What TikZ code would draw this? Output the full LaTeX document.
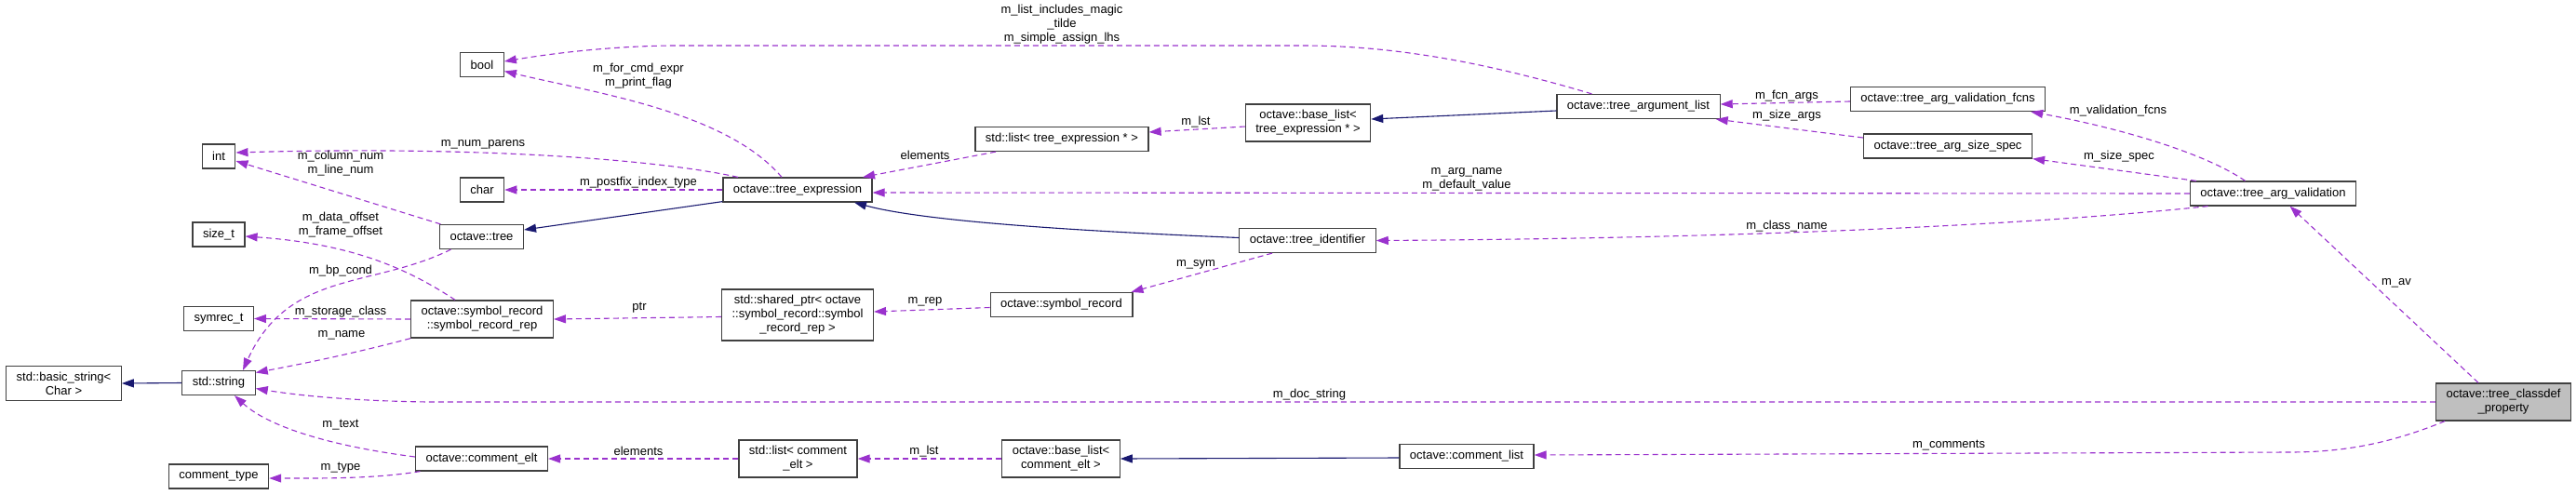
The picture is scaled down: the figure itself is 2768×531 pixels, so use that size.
\documentclass[tikz,border=0pt]{standalone}
\usepackage{fontspec}
\setmainfont{Liberation Sans}
\usepackage{xcolor}
\usetikzlibrary{arrows.meta}

\definecolor{memberpurple}{HTML}{9A32CD}
\definecolor{basenavy}{HTML}{191970}
\definecolor{focusgray}{HTML}{BFBFBF}

\begin{document}
\begin{tikzpicture}[x=1pt, y=-1pt,
  cls/.style={draw=black!75, line width=1.2pt, fill=white, inner xsep=11pt, inner ysep=6.5pt,
    minimum height=26pt, align=center, font=\fontsize{13}{15}\selectfont},
  focus/.style={cls, fill=focusgray},
  lbl/.style={inner sep=0pt, align=center, font=\fontsize{13}{15}\selectfont},
  member/.style={draw=memberpurple, line width=1.1pt, dash pattern=on 6pt off 4pt,
    -{Triangle[length=13pt,width=9pt]}},
  inherit/.style={draw=basenavy, line width=1.1pt, -{Triangle[length=13pt,width=9pt]}}]

\useasboundingbox (0,0) rectangle (2768,531);

% Plain types (left column)
\node[cls] (bool) at (518,69.5) {bool};
\node[cls] (int) at (235,168) {int};
\node[cls] (char) at (518,204) {char};
\node[cls] (sizet) at (235,252) {size\_t};
\node[cls] (symrect) at (235,342.5) {symrec\_t};
\node[cls] (bstring) at (68.5,412) {std::basic\_string<\\Char >};
\node[cls] (string) at (235,411.5) {std::string};
\node[cls] (ctype) at (235,512) {comment\_type};

% Second column
\node[cls] (tree) at (517.5,254.5) {octave::tree};
\node[cls] (symrep) at (518,343) {octave::symbol\_record\\::symbol\_record\_rep};
\node[cls] (celt) at (517.5,493) {octave::comment\_elt};

% Third column
\node[cls] (texpr) at (857,204) {octave::tree\_expression};
\node[cls] (shptr) at (857,338.5) {std::shared\_ptr< octave\\::symbol\_record::symbol\\\_record\_rep >};
\node[cls] (lcelt) at (857.5,493) {std::list< comment\\\_elt >};

% Fourth column
\node[cls] (lexpr) at (1141,149.5) {std::list< tree\_expression * >};
\node[cls] (symrec) at (1140.5,327.5) {octave::symbol\_record};
\node[cls] (bcelt) at (1140,493) {octave::base\_list<\\comment\_elt >};

% Fifth column
\node[cls] (bexpr) at (1405.5,132) {octave::base\_list<\\tree\_expression * >};
\node[cls] (tident) at (1405,258.5) {octave::tree\_identifier};
\node[cls] (clist) at (1576,490.5) {octave::comment\_list};

% Right part
\node[cls] (talist) at (1760.5,114.5) {octave::tree\_argument\_list};
\node[cls] (tavfcns) at (2093,106.5) {octave::tree\_arg\_validation\_fcns};
\node[cls] (tavsize) at (2093,157) {octave::tree\_arg\_size\_spec};
\node[cls] (tav) at (2442.5,208) {octave::tree\_arg\_validation};
\node[focus] (cprop) at (2690,432) {octave::tree\_classdef\\\_property};

% Members of tree_argument_list / tree_expression
\draw[member] ([xshift=-50pt]talist.north) .. controls (1600,68) and (1500,49) .. (1400,49)
  -- (720,49) .. controls (650,50) and (590,58) .. ([yshift=3.5pt]bool.east);
\draw[member] ([xshift=-17pt]texpr.north) .. controls (780,120) and (640,100) .. ([yshift=-7pt]bool.east);
\draw[member] ([xshift=-64pt]texpr.north) .. controls (700,170) and (500,157) .. ([yshift=4pt]int.east);
\draw[member] (texpr.west) -- (char.east);
\draw[member] ([xshift=-71pt]lexpr.south) -- ([xshift=70pt]texpr.north);
\draw[member] ([yshift=-4pt]bexpr.west) -- ([yshift=7.5pt]lexpr.east);

% Members of tree / symbol_record_rep / comment_elt
\draw[member] ([xshift=-44pt]tree.north) -- ([yshift=-5pt]int.east);
\draw[member] ([xshift=-29pt]symrep.north) .. controls (440,290) and (380,262) .. ([yshift=-2pt]sizet.east);
\draw[member] ([xshift=-33pt]tree.south) .. controls (400,310) and (310,290) .. ([xshift=26pt]string.north);
\draw[member] (symrep.west) -- (symrect.east);
\draw[member] (symrep.south west) .. controls (380,380) and (320,392) .. ([yshift=11pt]string.east);
\draw[member] ([yshift=2pt]celt.west) .. controls (360,480) and (290,460) .. ([xshift=17pt]string.south);
\draw[member] ([xshift=-66pt]celt.south) .. controls (400,515) and (340,514) .. ([yshift=-2pt]ctype.east);

% Symbol record chain
\draw[member] ([yshift=-2pt]shptr.west) -- (symrep.east);
\draw[member] ([yshift=-3pt]symrec.west) -- ([yshift=3.5pt]shptr.east);
\draw[member] ([xshift=-38pt]tident.south) -- ([xshift=-2pt]symrec.north east);

% Comment chain
\draw[member] (bcelt.west) -- (lcelt.east);
\draw[member] (lcelt.west) -- (celt.east);

% Inheritance
\draw[inherit] ([yshift=1pt]texpr.south west) -- ([yshift=7.5pt]tree.east);
\draw[inherit] (string.west) -- (bstring.east);
\draw[inherit] ([yshift=3pt]tident.west) .. controls (1200,250) and (1000,240) .. ([xshift=61pt]texpr.south);
\draw[inherit] ([yshift=-4.5pt]talist.west) -- ([yshift=4pt]bexpr.east);
\draw[inherit] ([yshift=-1.5pt]clist.west) -- (bcelt.east);

% Validation members
\draw[member] ([yshift=-2.5pt]tavfcns.west) -- ([yshift=2.5pt]talist.east);
\draw[member] ([yshift=9pt]tavsize.west) -- ([xshift=-5pt]talist.south east);
\draw[member] ([xshift=-30pt]tav.north) .. controls (2370,165) and (2280,138) .. ([xshift=-16pt]tavfcns.south east);
\draw[member] ([xshift=-82.5pt]tav.north) -- (tavsize.south east);
\draw[member] (tav.west) -- ([yshift=-3pt]texpr.east);
\draw[member] ([xshift=-70pt]tav.south) .. controls (2200,240) and (1900,256) .. (tident.east);

% Members of tree_classdef_property
\draw[member] ([xshift=-27pt]cprop.north) -- ([xshift=18pt]tav.south);
\draw[member] (cprop.west) -- (460,432) .. controls (380,431) and (320,425) .. ([yshift=-6pt]string.east);
\draw[member] ([xshift=-63pt]cprop.south) .. controls (2570,476) and (2520,486) .. (2460,486)
  -- ([yshift=1.5pt]clist.east);

% Edge labels
\node[lbl] (lmagic) at (1141,26.5) {m\_list\_includes\_magic\\\_tilde\\m\_simple\_assign\_lhs};
\node[lbl] (lforcmd) at (686,82) {m\_for\_cmd\_expr\\m\_print\_flag};
\node[lbl] (lnumparens) at (519,155) {m\_num\_parens};
\node[lbl] (lcolumn) at (366,175.5) {m\_column\_num\\m\_line\_num};
\node[lbl] (lpostfix) at (686,196) {m\_postfix\_index\_type};
\node[lbl] (loffset) at (366,242) {m\_data\_offset\\m\_frame\_offset};
\node[lbl] (lbpcond) at (366,291) {m\_bp\_cond};
\node[lbl] (lstorage) at (366,335) {m\_storage\_class};
\node[lbl] (lname) at (367,360) {m\_name};
\node[lbl] (ltext) at (366,457) {m\_text};
\node[lbl] (ltype) at (366,503) {m\_type};
\node[lbl] (lptr) at (687,331) {ptr};
\node[lbl] (lelemc) at (686,485) {elements};
\node[lbl] (lrep) at (994,324) {m\_rep};
\node[lbl] (lelemx) at (994,167) {elements};
\node[lbl] (llstc) at (993,485) {m\_lst};
\node[lbl] (llstx) at (1285,131) {m\_lst};
\node[lbl] (lsym) at (1285,284) {m\_sym};
\node[lbl] (ldoc) at (1407,424) {m\_doc\_string};
\node[lbl] (largname) at (1576,192.5) {m\_arg\_name\\m\_default\_value};
\node[lbl] (lfcnargs) at (1920,103) {m\_fcn\_args};
\node[lbl] (lsizeargs) at (1920,124) {m\_size\_args};
\node[lbl] (lclass) at (1920,243) {m\_class\_name};
\node[lbl] (lvalfcns) at (2276,119) {m\_validation\_fcns};
\node[lbl] (lsizespec) at (2277,168) {m\_size\_spec};
\node[lbl] (lav) at (2575,304) {m\_av};
\node[lbl] (lcomments) at (2094,479) {m\_comments};

\end{tikzpicture}
\end{document}
